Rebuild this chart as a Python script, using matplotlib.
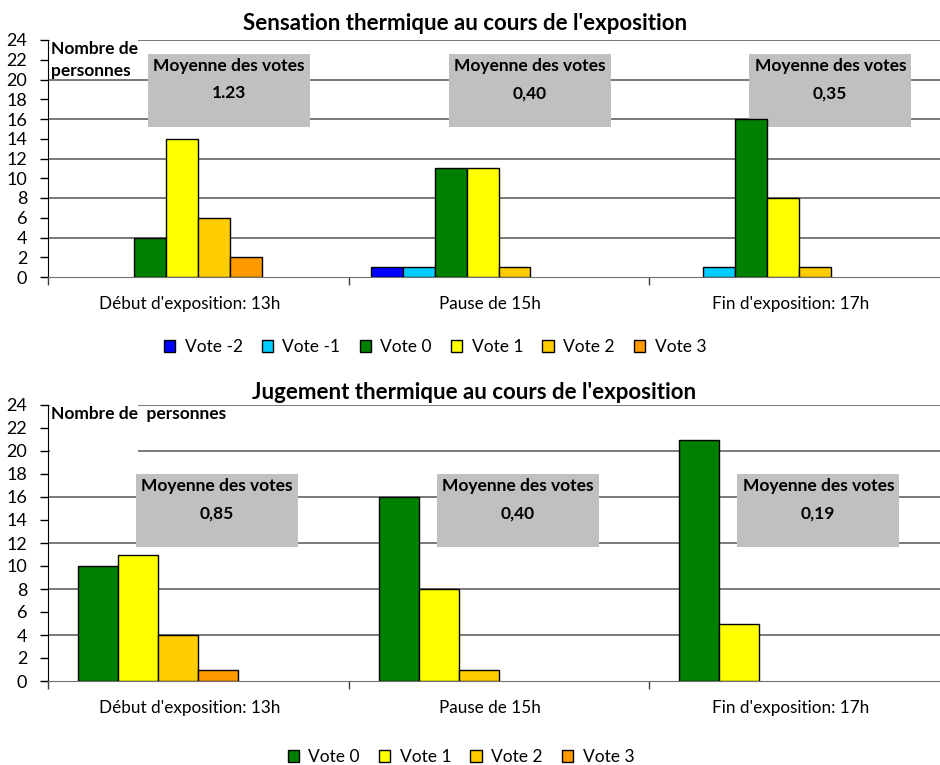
import matplotlib
matplotlib.use("Agg")
import matplotlib.pyplot as plt
from matplotlib.patches import Rectangle, Patch
import numpy as np

plt.rcParams['font.family'] = ['Lato', 'DejaVu Sans']

# donnees
moments = ["Début d'exposition: 13h", "Pause de 15h", "Fin d'exposition: 17h"]

votes_sens = ["Vote -2", "Vote -1", "Vote 0", "Vote 1", "Vote 2", "Vote 3"]
sens_vm2 = [0, 1, 0]
sens_vm1 = [0, 1, 1]
sens_v0 = [4, 11, 16]
sens_v1 = [14, 11, 8]
sens_v2 = [6, 1, 1]
sens_v3 = [2, 0, 0]
moy_sens = ["1.23", "0,40", "0,35"]

votes_jug = ["Vote 0", "Vote 1", "Vote 2", "Vote 3"]
jug_v0 = [10, 16, 21]
jug_v1 = [11, 8, 5]
jug_v2 = [4, 1, 0]
jug_v3 = [1, 0, 0]
moy_jug = ["0,85", "0,40", "0,19"]

couleurs = {"Vote -2": "#0000FF", "Vote -1": "#00CCFF", "Vote 0": "#008000",
            "Vote 1": "#FFFF00", "Vote 2": "#FFCC00", "Vote 3": "#FF9900"}


def graphe(ax, noms, series, largeur, decalage, moyennes, box_x0, box_y, txt_y,
           nombre_txt, blanc_y0):
    x = np.arange(len(moments))
    n = len(series)
    for k, (nom, val) in enumerate(zip(noms, series)):
        barres = ax.bar(x + decalage + (k - (n - 1) / 2) * largeur, val, largeur,
                        color=couleurs[nom], edgecolor='black', linewidth=1,
                        zorder=3)
        # Excel ne dessine pas les barres nulles
        for b in barres:
            if b.get_height() == 0:
                b.set_visible(False)
    for y in range(4, 25, 4):
        ax.axhline(y, color='#555555', lw=1.1, zorder=0.5)
    ax.set_xlim(-0.5, 2.468)
    ax.set_ylim(0, 24)
    ax.set_yticks(range(0, 25, 2))
    ax.tick_params(axis='y', length=6, width=1, pad=9, labelsize=13)
    ax.set_xticks(x - 0.03)
    ax.set_xticklabels(moments, fontsize=12.3)
    ax.tick_params(axis='x', length=0, pad=14)
    ax.set_xticks([-0.5, 0.5, 1.5], minor=True)
    ax.tick_params(axis='x', which='minor', length=6, width=1, color='#404040')
    for s in ['top', 'right']:
        ax.spines[s].set_visible(False)
    ax.spines['bottom'].set_color('#707070')
    ax.spines['left'].set_color('black')
    # cache blanc sous "Nombre de personnes"
    ax.add_patch(Rectangle((0.002, blanc_y0), 0.099, 1.02 - blanc_y0,
                           transform=ax.transAxes, facecolor='white',
                           edgecolor='none', zorder=1, clip_on=False))
    ax.text(0.003, 0.995, nombre_txt, transform=ax.transAxes, fontsize=12.5,
            fontweight='bold', va='top', ha='left', linespacing=1.45, zorder=4)
    box_w = 0.54
    for i, m in enumerate(moyennes):
        ax.add_patch(Rectangle((i + box_x0, box_y[0]), box_w,
                               box_y[1] - box_y[0], facecolor='#C0C0C0',
                               edgecolor='none', zorder=2))
        cx = i + box_x0 + box_w / 2
        ax.text(cx, txt_y[0], "Moyenne des votes", ha='center', va='center',
                fontsize=12.5, fontweight='bold', zorder=4)
        ax.text(cx, txt_y[1], m, ha='center', va='center',
                fontsize=12.5, fontweight='bold', zorder=4)


fig = plt.figure(figsize=(9.4, 7.65), dpi=100)
ax1 = fig.add_axes([48 / 940, 1 - 277 / 765, 892 / 940, 237 / 765])
ax2 = fig.add_axes([48 / 940, 1 - 681 / 765, 892 / 940, 276 / 765])

graphe(ax1, votes_sens, [sens_vm2, sens_vm1, sens_v0, sens_v1, sens_v2, sens_v3],
       0.106, -0.107, moy_sens, -0.167, (15.2, 22.6), (21.4, 18.6),
       "Nombre de\npersonnes", 0.84)
graphe(ax2, votes_jug, [jug_v0, jug_v1, jug_v2, jug_v3],
       0.133, -0.133, moy_jug, -0.207, (11.65, 18.0), (16.95, 14.6),
       "Nombre de  personnes", 0.82)

fig.text(465 / 940, 1 - 23 / 765, "Sensation thermique au cours de l'exposition",
         ha='center', va='center', fontsize=16, fontweight='bold')
fig.text(474 / 940, 1 - 393 / 765, "Jugement thermique au cours de l'exposition",
         ha='center', va='center', fontsize=16, fontweight='bold')

for noms, xc, yc in [(votes_sens, 435 / 940, 1 - 347 / 765),
                     (votes_jug, 461 / 940, 1 - 757 / 765)]:
    h = [Patch(facecolor=couleurs[v], edgecolor='black', linewidth=1) for v in noms]
    fig.legend(h, noms, loc='center', bbox_to_anchor=(xc, yc), ncol=len(noms),
               frameon=False, fontsize=12.5, handlelength=0.65, handleheight=0.65,
               handletextpad=0.55, columnspacing=1.1, borderpad=0)

fig.savefig("out.png", dpi=100)
